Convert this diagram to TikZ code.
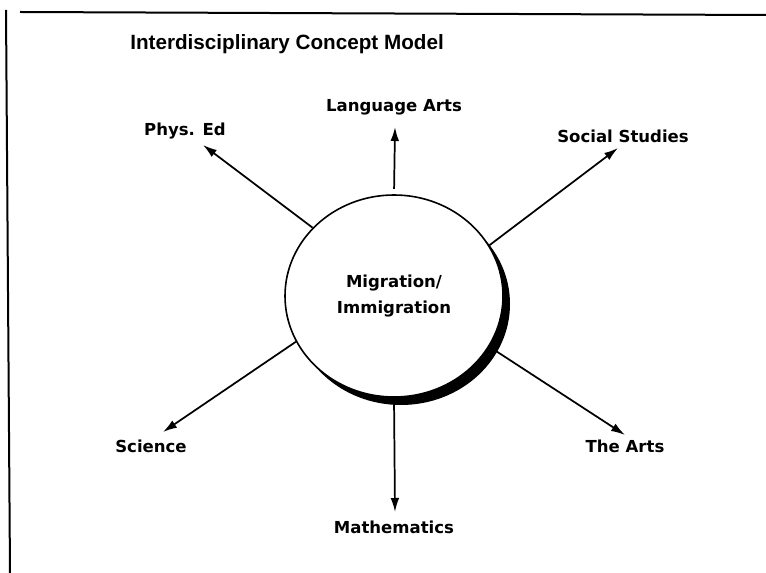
\documentclass[tikz,border=0pt]{standalone}
\usepackage{fontspec}
\setmainfont{Liberation Sans}
\newfontfamily\lblfont{DejaVu Sans}
\usetikzlibrary{arrows.meta,shapes.geometric,shadows}

\begin{document}
\begin{tikzpicture}
      [x=.75pt,y=-.75pt
      ,frm/.style={line width=1.5pt}
      ,arr/.style={line width=1.3pt,-{Latex[length=10.5pt,width=6.5pt]}}
      ,lbl/.style={font=\lblfont\bfseries\fontsize{12.4}{15}\selectfont,anchor=base,inner sep=0pt}
      ,topic/.style={ellipse,draw,line width=1.2pt,fill=white
                    ,minimum width=163.5pt,minimum height=151.5pt,inner sep=0pt,align=center
                    ,font=\lblfont\bfseries\fontsize{12.4}{19.5}\selectfont
                    ,drop shadow={shadow xshift=5.25pt,shadow yshift=-6pt,opacity=1,fill=black}}
      ]
        \useasboundingbox (0,0) rectangle (766,573);
        % page frame
        \draw[frm] (20,12) -- (766,15);
        \draw[frm] (6,10) -- (10,573);
        \node[font=\bfseries\fontsize{15.5}{18}\selectfont,anchor=base,inner sep=0pt] (title) at (287,50) {Interdisciplinary Concept Model};
        \node[topic] (mig) at (394,296) {Migration/\\Immigration};
        % arrow tips
        \coordinate (langtip) at (395,127);
        \coordinate (phystip) at (203,145);
        \coordinate (soctip) at (618,148);
        \coordinate (scitip) at (163,432);
        \coordinate (artstip) at (625,435);
        \coordinate (mathtip) at (395,512);
        \draw[arr,shorten <=4pt] (mig.90) -- (langtip);
        \foreach \a/\t in {140/phystip,28/soctip,205/scitip,332/artstip,270/mathtip}{
          \draw[arr] (mig.\a) -- (\t);
        }
        \node[lbl] (lang) at (394,112) {Language Arts};
        \node[lbl] (phys) at (185,136) {Phys. Ed};
        \node[lbl] (soc) at (623,143) {Social Studies};
        \node[lbl] (sci) at (151,452) {Science};
        \node[lbl] (arts) at (625,452) {The Arts};
        \node[lbl] (math) at (394,533) {Mathematics};
      \end{tikzpicture}
\end{document}
